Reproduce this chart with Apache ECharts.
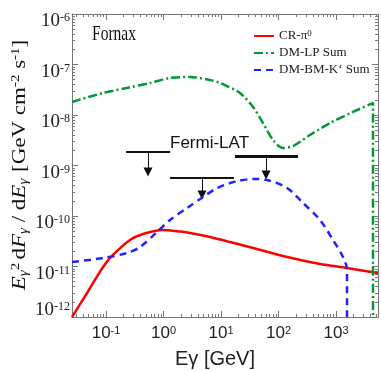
<!DOCTYPE html>
<html><head><meta charset="utf-8">
<script src="https://cdn.jsdelivr.net/npm/echarts@6/dist/echarts.min.js"></script>
<style>html,body{margin:0;padding:0;background:#fff}#c{width:381px;height:371px}</style>
</head><body><div id="c"></div>
<script>
// ---- data (E in GeV, E^2 dF/dE in GeV cm^-2 s^-1)
const crE = [0.0256,0.0468,0.0887,0.132,0.261,0.440,0.980,1.94,2.89,4.87,9.62,14.4,36.1,141,527,1552,5370];
const crF = [1.0e-12,2.99e-12,9.77e-12,1.69e-11,3.35e-11,4.41e-11,5.28e-11,4.93e-11,4.61e-11,4.11e-11,3.43e-11,3.05e-11,2.32e-11,1.54e-11,1.12e-11,9.33e-12,7.43e-12];

const lpE = [0.0256,0.0887,0.23,0.582,1.30,2.89,6.44,9.62,12.7,21.4,36.1,53.7,80.2,119.7,178.6,353,787,1977,4395,4395];
const lpF = [1.81e-8,2.73e-8,3.43e-8,4.31e-8,5.41e-8,5.65e-8,4.93e-8,4.31e-8,3.75e-8,2.73e-8,1.44e-8,6.95e-9,3.20e-9,2.22e-9,2.43e-9,4.02e-9,6.95e-9,1.15e-8,1.73e-8,1e-14];

const bmE = [0.0256,0.0887,0.232,0.390,0.771,1.30,2.56,4.87,8.51,14.4,19.0,36.1,63.1,141,267,527,887,1324,1552,1552];
const bmF = [1.23e-11,1.47e-11,1.85e-11,2.43e-11,4.82e-11,8.34e-11,1.44e-10,2.38e-10,3.58e-10,4.50e-10,4.93e-10,5.41e-10,5.17e-10,3.58e-10,1.81e-10,8.34e-11,3.35e-11,1.54e-11,8.53e-12,1e-14];

// Fermi-LAT upper limits
const ulLo = [0.223, 1.30, 17.5];
const ulHi = [1.30, 16.8, 218];
const ulF = [1.85e-9, 5.65e-10, 1.54e-9];
const ulArrowE = [0.537, 4.67, 60.7];
const ulArrowTo = [7.43e-10, 2.61e-10, 6.48e-10];

const seriesNames = ['CR-π0', 'DM-LP Sum', 'DM-BM-K‘ Sum'];
const xMin = 0.0256, xMax = 5370, yMin = 1e-12, yMax = 1e-6;
const xMajor = [0.1, 1, 10, 100, 1000];
const yMajor = [1e-12, 1e-11, 1e-10, 1e-9, 1e-8, 1e-7, 1e-6];

function minorTicks(lo, hi, eLo, eHi) {
  const out = [];
  for (let e = eLo; e <= eHi; e++) for (let m = 2; m <= 9; m++) {
    const v = m * Math.pow(10, e);
    if (v > lo && v < hi) out.push(v);
  }
  return out;
}
const xMinor = minorTicks(xMin, xMax, -2, 3);
const yMinor = minorTicks(yMin * 0.999, yMax, -12, -7);

const axCol = '#777';
const serif = '"Liberation Serif", "Times New Roman", serif';
const sans = '"Liberation Sans", Arial, sans-serif';

function xAx(grid, pos, major, labels) {
  return {
    type: 'log', gridIndex: grid, position: pos, min: xMin, max: xMax,
    axisLine: { show: labels !== null, lineStyle: { color: axCol, width: 1 } },
    axisTick: { show: true, inside: true, length: major ? 6 : 3, customValues: major ? xMajor : xMinor, lineStyle: { color: axCol } },
    minorTick: { show: false },
    splitLine: { show: false },
    axisLabel: labels ? labels : { show: false },
    name: labels ? 'Eγ [GeV]' : '',
    nameLocation: 'middle', nameGap: 32,
    nameTextStyle: { fontFamily: sans, fontSize: 20, color: '#222', padding: [0, 20, 0, 0] }
  };
}
function yAx(grid, pos, major, labels) {
  return {
    type: 'log', gridIndex: grid, position: pos, min: yMin, max: yMax,
    axisLine: { show: labels !== null, lineStyle: { color: axCol, width: 1 } },
    axisTick: { show: true, inside: true, length: major ? 6 : 3, customValues: major ? yMajor : yMinor, lineStyle: { color: axCol } },
    minorTick: { show: false },
    splitLine: { show: false },
    axisLabel: labels ? labels : { show: false }
  };
}
const expOf = v => Math.round(Math.log10(v));
const xLabels = {
  show: true, customValues: xMajor, margin: 8,
  formatter: v => '{b|10}{t|' + expOf(v) + '}',
  rich: {
    b: { fontFamily: sans, fontSize: 17, lineHeight: 17, verticalAlign: 'bottom', color: '#222' },
    t: { fontFamily: sans, fontSize: 11, lineHeight: 11, verticalAlign: 'top', color: '#222' }
  }
};
const yLabels = {
  show: true, customValues: yMajor, margin: 2, padding: [15, 0, 0, 0],
  formatter: v => { const e = expOf(v); return e === -12 ? '{a|10}{s|' + e + '}\n{g| }' : '{a|10}{s|' + e + '}'; },
  rich: {
    a: { fontFamily: serif, fontSize: 19, lineHeight: 19, verticalAlign: 'bottom', color: '#222' },
    s: { fontFamily: serif, fontSize: 12, lineHeight: 12, verticalAlign: 'top', color: '#222' },
    g: { fontSize: 10, lineHeight: 29 }
  }
};

const zip = (a, b) => a.map((x, i) => [x, b[i]]);
const rect = { left: 72, top: 14, right: 3, bottom: 54, outerBoundsMode: 'none', containLabel: false };

const option = {
  animation: false,
  backgroundColor: '#fff',
  grid: [Object.assign({}, rect), Object.assign({}, rect)],
  xAxis: [
    xAx(0, 'bottom', true, xLabels),
    xAx(0, 'top', true, false),
    xAx(1, 'bottom', false, null),
    xAx(1, 'top', false, null)
  ],
  yAxis: [
    yAx(0, 'left', true, yLabels),
    yAx(0, 'right', true, false),
    yAx(1, 'left', false, null),
    yAx(1, 'right', false, null)
  ],
  legend: {
    orient: 'vertical', left: 248, top: 24, itemWidth: 20, itemHeight: 10, itemGap: 3,
    data: seriesNames,
    itemStyle: { opacity: 0 },
    formatter: n => n === 'CR-π0' ? '{n|CR-π}{p|0}' : '{n|' + n + '}',
    textStyle: {
      fontFamily: serif, fontSize: 12, lineHeight: 14, color: '#222',
      rich: {
        n: { fontFamily: serif, fontSize: 13, lineHeight: 14, color: '#222' },
        p: { fontFamily: serif, fontSize: 9, lineHeight: 9, verticalAlign: 'top', color: '#222' }
      }
    }
  },
  graphic: [
    { type: 'text', x: 92, y: 34, scaleX: 0.74, style: { text: 'Fornax', font: '21px ' + serif, fill: '#111', verticalAlign: 'middle', align: 'left' } },
    { type: 'text', x: 170, y: 143, style: { text: 'Fermi-LAT', font: '17px ' + sans, fill: '#111', verticalAlign: 'middle', align: 'left' } },
    { type: 'text', x: 20, y: 165, rotation: Math.PI / 2, scaleY: 0.78,
      style: {
        text: '{i|E}{sb|γ}{sp|2} {n|d}{i|F}{sb|γ}{n| / d}{i|E}{sb|γ}  {n|[GeV cm}{sp|-2}{n| s}{sp|-1}{n|]}',
        align: 'center', verticalAlign: 'middle', fill: '#111',
        rich: {
          i: { fontFamily: serif, fontStyle: 'italic', fontSize: 23, lineHeight: 26, verticalAlign: 'middle', fill: '#111' },
          n: { fontFamily: serif, fontSize: 23, lineHeight: 26, verticalAlign: 'middle', fill: '#111' },
          sb: { fontFamily: serif, fontStyle: 'italic', fontSize: 15, lineHeight: 15, verticalAlign: 'bottom', fill: '#111' },
          sp: { fontFamily: serif, fontSize: 15, lineHeight: 15, verticalAlign: 'top', fill: '#111' }
        }
      } }
  ],
  series: [
    { name: seriesNames[0], type: 'line', data: zip(crE, crF), symbol: 'none', smooth: 0.3,
      lineStyle: { color: '#ff0000', width: 2.5 }, itemStyle: { color: '#ff0000' } },
    { name: seriesNames[1], type: 'line', data: zip(lpE, lpF), symbol: 'none', smooth: 0.3,
      lineStyle: { color: '#009933', width: 2.5, type: [9, 3, 2, 3] }, itemStyle: { color: '#009933' } },
    { name: seriesNames[2], type: 'line', data: zip(bmE, bmF), symbol: 'none', smooth: 0.3,
      lineStyle: { color: '#2222ff', width: 2.5, type: [7, 5] }, itemStyle: { color: '#2222ff' } },
    { name: 'Fermi-LAT bars', type: 'lines', coordinateSystem: 'cartesian2d', symbol: 'none',
      data: ulLo.map((lo, i) => ({ coords: [[lo, ulF[i]], [ulHi[i], ulF[i]]], lineStyle: { width: i === 2 ? 3 : 2 } })),
      lineStyle: { color: '#111', width: 2, opacity: 1 } },
    { name: 'Fermi-LAT arrows', type: 'lines', coordinateSystem: 'cartesian2d', symbol: ['none', 'triangle'], symbolSize: [7, 9],
      data: ulArrowE.map((e, i) => ({ coords: [[e, ulF[i]], [e, ulArrowTo[i]]] })),
      lineStyle: { color: '#111', width: 1, opacity: 1 }, itemStyle: { color: '#111' } }
  ]
};
const chart = echarts.init(document.getElementById('c'), null, { renderer: 'canvas' });
chart.setOption(option);
</script></body></html>
